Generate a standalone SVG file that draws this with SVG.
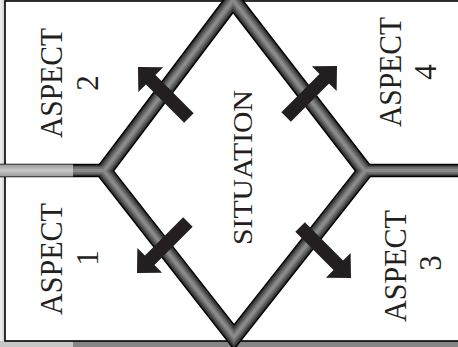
<svg xmlns="http://www.w3.org/2000/svg" width="458" height="347" viewBox="0 0 458 347">
<style>
.lbl{font-family:"Liberation Serif","Times New Roman",serif;fill:#231f20;text-anchor:middle}
.asp{font-size:31px}
.arrow{fill:#231f20}
.b0{fill:none;stroke:#000;stroke-linejoin:miter}
.b1{fill:none;stroke:#3a3a3a;stroke-linejoin:miter}
.b2{fill:none;stroke:#575757;stroke-linejoin:miter}
.b3{fill:none;stroke:#737373;stroke-linejoin:miter}
.b4{fill:none;stroke:#8a8a8a;stroke-linejoin:miter}
</style>
<defs>
<linearGradient id="lstrip" x1="0" y1="0" x2="1" y2="0">
<stop offset="0" stop-color="#f2f2f2"/>
<stop offset="1" stop-color="#c4c4c4"/>
</linearGradient>
<linearGradient id="larm" x1="0" y1="0" x2="0" y2="1">
<stop offset="0" stop-color="#9a9a9a"/>
<stop offset="0.5" stop-color="#c8c8c8"/>
<stop offset="1" stop-color="#9a9a9a"/>
</linearGradient>
<polygon id="arr" points="0,0 18,-17.5 18,-6.75 72,-6.75 72,6.75 18,6.75 18,17.5"/>
</defs>
<rect x="0" y="0" width="458" height="347" fill="#d0d0d0"/>
<rect x="0" y="0" width="6" height="347" fill="url(#lstrip)"/>
<rect x="73" y="341" width="385" height="6" fill="#858585"/>
<rect x="0" y="341" width="73" height="6" fill="#c6c6c6"/>
<rect x="5" y="1" width="460" height="340" fill="#fff" stroke="#000" stroke-width="1.6"/>
<g id="frame">
<path class="b0" stroke-width="16.5" d="M233,0 L104,171 L234,337 L365,171 Z"/>
<path class="b0" stroke-width="13.5" d="M0,170.5 H104 M365,170.5 H460"/>
<path class="b1" stroke-width="13.5" d="M233,0 L104,171 L234,337 L365,171 Z"/>
<path class="b1" stroke-width="10.5" d="M73,170.5 H104 M365,170.5 H460"/>
<path class="b2" stroke-width="10" d="M233,0 L104,171 L234,337 L365,171 Z"/>
<path class="b2" stroke-width="8.5" d="M73,170.5 H104 M365,170.5 H460"/>
<path class="b3" stroke-width="6.5" d="M233,0 L104,171 L234,337 L365,171 Z M73,170.5 H104 M365,170.5 H460"/>
<path class="b4" stroke-width="3" d="M233,0 L104,171 L234,337 L365,171 Z M73,170.5 H104 M365,170.5 H460"/>
<rect x="0" y="164.5" width="73" height="12" fill="url(#larm)"/>
</g>
<g id="connectors">
<use href="#arr" class="arrow" transform="translate(138,67) rotate(45)"/>
<use href="#arr" class="arrow" transform="translate(337,66) rotate(135)"/>
<use href="#arr" class="arrow" transform="translate(137,273) rotate(-45)"/>
<use href="#arr" class="arrow" transform="translate(351,278) rotate(-135)"/>
</g>
<g id="aspect2">
<text class="lbl asp" transform="translate(62,83) rotate(-90)" textLength="110" lengthAdjust="spacingAndGlyphs">ASPECT</text>
<text class="lbl asp" transform="translate(98,83) rotate(-90)">2</text>
</g>
<g id="aspect1">
<text class="lbl asp" transform="translate(62,259) rotate(-90)" textLength="112" lengthAdjust="spacingAndGlyphs">ASPECT</text>
<text class="lbl asp" transform="translate(98,258) rotate(-90)">1</text>
</g>
<g id="aspect4">
<text class="lbl asp" transform="translate(401,72) rotate(-90)" textLength="110" lengthAdjust="spacingAndGlyphs">ASPECT</text>
<text class="lbl asp" transform="translate(436,72) rotate(-90)">4</text>
</g>
<g id="aspect3">
<text class="lbl asp" transform="translate(406,266) rotate(-90)" textLength="112" lengthAdjust="spacingAndGlyphs">ASPECT</text>
<text class="lbl asp" transform="translate(441,263) rotate(-90)">3</text>
</g>
<g id="situation">
<text class="lbl" font-size="28" transform="translate(252,167.5) rotate(-90)" textLength="155" lengthAdjust="spacingAndGlyphs">SITUATION</text>
</g>
</svg>
